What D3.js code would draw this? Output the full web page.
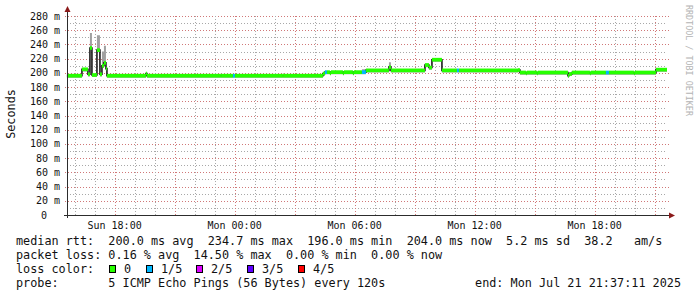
<!DOCTYPE html>
<html lang="en">
<head>
<meta charset="UTF-8">
<script src="https://cdn.jsdelivr.net/npm/d3@7"></script>
<title>Smokeping</title>
<style>
  body { margin: 0; background: #fff; }
  svg text { font-family: "DejaVu Sans Mono", monospace; white-space: pre; }
  .grid line { shape-rendering: crispEdges; }
</style>
</head>
<body>
<script>
const w = 697, h = 297;
const startTime = "2025-07-20 15:37:11";
const endTime = "2025-07-21 21:37:11";

// change points: time, median rtt (ms), top of smoke (ms), lost pings out of 5
const times = [
  "2025-07-20 15:37", "2025-07-20 16:22", "2025-07-20 16:40", "2025-07-20 16:46",
  "2025-07-20 16:52", "2025-07-20 17:07", "2025-07-20 17:16", "2025-07-20 17:22",
  "2025-07-20 17:28", "2025-07-20 17:34", "2025-07-20 17:37", "2025-07-20 19:34",
  "2025-07-20 19:37", "2025-07-20 23:19", "2025-07-20 23:22", "2025-07-20 23:55",
  "2025-07-21 00:01", "2025-07-21 02:25", "2025-07-21 02:28", "2025-07-21 04:25",
  "2025-07-21 04:31", "2025-07-21 04:37", "2025-07-21 04:46", "2025-07-21 04:49",
  "2025-07-21 05:25", "2025-07-21 05:28", "2025-07-21 05:55", "2025-07-21 05:58",
  "2025-07-21 06:22", "2025-07-21 06:34", "2025-07-21 07:43", "2025-07-21 07:49",
  "2025-07-21 09:31", "2025-07-21 09:43", "2025-07-21 09:52", "2025-07-21 10:22",
  "2025-07-21 11:07", "2025-07-21 11:13", "2025-07-21 14:10", "2025-07-21 14:16",
  "2025-07-21 14:34", "2025-07-21 14:37", "2025-07-21 15:07", "2025-07-21 15:10",
  "2025-07-21 16:40", "2025-07-21 16:43", "2025-07-21 16:52", "2025-07-21 17:46",
  "2025-07-21 17:49", "2025-07-21 18:34", "2025-07-21 18:43", "2025-07-21 19:58",
  "2025-07-21 20:01", "2025-07-21 21:04"
];
const median = [
  196, 205, 198, 235, 197, 232, 198, 210, 214, 206, 196, 199,
  196, 196, 196, 196, 196, 196, 196, 199, 201, 201, 199.5, 201,
  199.5, 201, 199.5, 201, 201, 203.5, 208, 203.5, 211, 207.5, 218.5, 203.5,
  203.5, 203.5, 204, 200.5, 199.5, 200.5, 199.5, 200.5, 196, 198.5, 200.5, 199.5,
  200.5, 200.5, 200.5, 199.5, 200.5, 204.5
];
const smokeTop = [
  196, 205, 198, 256, 197, 253, 198, 230, 238, 206, 196, 199,
  196, 199, 196, 196, 196, 199, 196, 199, 203, 201, 199.5, 201,
  199.5, 201, 199.5, 201, 205, 203.5, 215, 203.5, 213, 207.5, 220, 203.5,
  203.5, 203.5, 204, 200.5, 199.5, 200.5, 199.5, 200.5, 196, 198.5, 200.5, 199.5,
  200.5, 200.5, 200.5, 199.5, 200.5, 204.5
];
const loss = [
  0, 0, 0, 0, 0, 0, 0, 0, 0, 0, 0, 0,
  0, 0, 0, 1, 0, 0, 0, 0, 1, 0, 0, 0,
  0, 0, 0, 0, 1, 0, 0, 0, 0, 0, 0, 0,
  1, 0, 0, 0, 0, 0, 0, 0, 0, 0, 0, 0,
  0, 1, 0, 0, 0, 0
];

const yTicks = [0, 20, 40, 60, 80, 100, 120, 140, 160, 180, 200, 220, 240, 260, 280];
const xLabels = ["2025-07-20 18:00", "2025-07-21 00:00", "2025-07-21 06:00", "2025-07-21 12:00", "2025-07-21 18:00"];
const lossLabels = ["0", "1/5", "2/5", "3/5", "4/5"];
const lossColors = ["#26ff00", "#00b8ff", "#dd00ff", "#5e00ff", "#ff0000"];
const legendLines = [
  "median rtt:  200.0 ms avg  234.7 ms max  196.0 ms min  204.0 ms now  5.2 ms sd  38.2   am/s",
  "packet loss: 0.16 % avg  14.50 % max  0.00 % min  0.00 % now",
  "loss color:",
  "probe:       5 ICMP Echo Pings (56 Bytes) every 120s"
];
const endLabel = "end: Mon Jul 21 21:37:11 2025";

const parseS = d3.timeParse("%Y-%m-%d %H:%M:%S");
const parse = d3.timeParse("%Y-%m-%d %H:%M");
const t0 = parseS(startTime), t1 = parseS(endTime);

const data = times.map((t, i) => ({
  t: parse(t), med: median[i], hi: smokeTop[i], loss: loss[i],
  t2: i < times.length - 1 ? parse(times[i + 1]) : t1
}));

const pL = 67, pR = 667, pT = 16, pB = 215;
const x = d3.scaleTime().domain([t0, t1]).range([pL, pR]);
const y = d3.scaleLinear().domain([0, 280]).range([pB, pT]);

const svg = d3.select("body").append("svg")
  .attr("width", w).attr("height", h)
  .style("background", "#fff");

const gridMinor = "#a8a8a8", gridMajor = "#d07878";
const grid = svg.append("g").attr("class", "grid");

// horizontal grid
const yMinor = d3.range(10, 281, 20);
grid.append("g").selectAll("line").data(yMinor).enter().append("line")
  .attr("x1", pL).attr("x2", pR)
  .attr("y1", d => Math.round(y(d)) + 0.5).attr("y2", d => Math.round(y(d)) + 0.5)
  .attr("stroke", gridMinor).attr("stroke-dasharray", "1,2");
grid.append("g").selectAll("line").data(yTicks.slice(1)).enter().append("line")
  .attr("x1", pL - 2).attr("x2", pR + 2)
  .attr("y1", d => Math.round(y(d)) + 0.5).attr("y2", d => Math.round(y(d)) + 0.5)
  .attr("stroke", gridMajor).attr("stroke-dasharray", "1,2");

// vertical grid
const hours = d3.timeHour.range(t0, t1);
grid.append("g").selectAll("line").data(hours.filter(d => d.getHours() % 3 !== 0)).enter().append("line")
  .attr("x1", d => Math.round(x(d)) + 0.5).attr("x2", d => Math.round(x(d)) + 0.5)
  .attr("y1", pT).attr("y2", pB)
  .attr("stroke", gridMinor).attr("stroke-dasharray", "1,2");
grid.append("g").selectAll("line").data(hours.filter(d => d.getHours() % 3 === 0)).enter().append("line")
  .attr("x1", d => Math.round(x(d)) + 0.5).attr("x2", d => Math.round(x(d)) + 0.5)
  .attr("y1", pT).attr("y2", pB + 2)
  .attr("stroke", gridMajor).attr("stroke-dasharray", "1,2");

// smoke
svg.append("path").datum(data.concat([{ t: t1, med: median[median.length - 1], hi: smokeTop[smokeTop.length - 1] }]))
  .attr("d", d3.area().curve(d3.curveStepAfter)
    .x(d => x(d.t)).y0(d => y(d.med - 3)).y1(d => y(d.hi)))
  .attr("fill", "#a0a0a0");

// median step line (dark transitions)
svg.append("path").datum(data.concat([{ t: t1, med: median[median.length - 1] }]))
  .attr("d", d3.line().curve(d3.curveStepAfter).x(d => x(d.t)).y(d => y(d.med)))
  .attr("fill", "none").attr("stroke", "#1a1a1a").attr("stroke-width", 1.6);

// median coloured by loss
svg.append("g").selectAll("rect").data(data).enter().append("rect")
  .attr("x", d => x(d.t)).attr("width", d => x(d.t2) - x(d.t))
  .attr("y", d => y(d.med + 2.6)).attr("height", d => y(d.med - 2.6) - y(d.med + 2.6))
  .attr("fill", d => lossColors[d.loss]);

// axes
const axisCol = "#2c2c2c", arrowCol = "#8b1a1a";
svg.append("line").attr("x1", pL + 0.5).attr("x2", pL + 0.5).attr("y1", pB + 3).attr("y2", 10)
  .attr("stroke", axisCol);
svg.append("line").attr("x1", pL - 3).attr("x2", pR + 4).attr("y1", pB + 0.5).attr("y2", pB + 0.5)
  .attr("stroke", axisCol);
svg.append("path").attr("d", `M${pL - 2.5},12 L${pL + 3.5},12 L${pL + 0.5},6 Z`).attr("fill", arrowCol);
svg.append("path").attr("d", `M${pR + 2},${pB - 2.5} L${pR + 2},${pB + 3.5} L${pR + 8},${pB + 0.5} Z`).attr("fill", arrowCol);

// y labels
svg.append("g").selectAll("text").data(yTicks).enter().append("text")
  .attr("x", d => d === 0 ? 47 : 60).attr("y", d => y(d) + 3.5)
  .attr("text-anchor", "end").attr("font-size", "10px").attr("fill", "#111")
  .text(d => d === 0 ? "0" : d + " m");

// x labels
const fmt = d3.timeFormat("%a %H:%M");
svg.append("g").selectAll("text").data(xLabels).enter().append("text")
  .attr("x", d => x(parse(d))).attr("y", 229)
  .attr("text-anchor", "middle").attr("font-size", "10px").attr("fill", "#111")
  .text(d => fmt(parse(d)));

// y title
svg.append("text").attr("transform", "translate(15,114) rotate(-90)")
  .attr("text-anchor", "middle").attr("font-size", "11.8px").attr("fill", "#111")
  .text("Seconds");

// watermark
svg.append("text").attr("transform", "translate(686,5) rotate(90)")
  .attr("font-size", "8.4px").attr("fill", "#b4b4b4")
  .text("RRDTOOL / TOBI OETIKER");

// legend
svg.append("g").selectAll("text").data(legendLines).enter().append("text")
  .attr("x", 16).attr("y", (d, i) => 245 + i * 14)
  .attr("font-size", "11.8px").attr("fill", "#111")
  .text(d => d);
svg.append("text").attr("x", 681).attr("y", 287).attr("text-anchor", "end")
  .attr("font-size", "11.8px").attr("fill", "#111").text(endLabel);

const swatchX = [109, 146, 196, 247, 298];
const sw = svg.append("g").selectAll("g").data(lossLabels).enter().append("g");
sw.append("rect")
  .attr("x", (d, i) => swatchX[i] + 0.5).attr("y", 265.5).attr("width", 6).attr("height", 7)
  .attr("fill", (d, i) => lossColors[i]).attr("stroke", "#000");
sw.append("text")
  .attr("x", (d, i) => swatchX[i] + 15).attr("y", 273)
  .attr("font-size", "11.8px").attr("fill", "#111")
  .text(d => d);
</script>
</body>
</html>
